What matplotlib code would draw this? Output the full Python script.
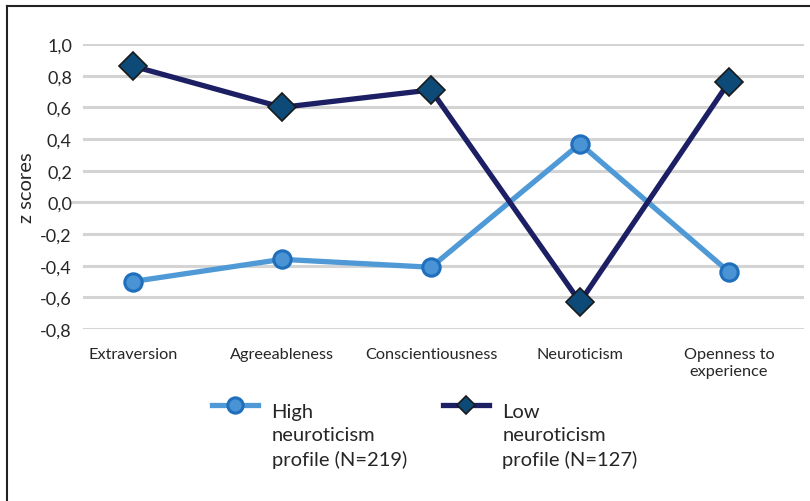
import matplotlib
matplotlib.use("Agg")
import matplotlib.pyplot as plt
from matplotlib.lines import Line2D
from matplotlib.legend_handler import HandlerLine2D
import numpy as np

categories = ["Extraversion", "Agreeableness", "Conscientiousness", "Neuroticism", "Openness to\nexperience"]
high_values = [-0.50, -0.36, -0.41, 0.37, -0.44]
low_values = [0.86, 0.60, 0.71, -0.63, 0.76]
high_label = "High\nneuroticism\nprofile (N=219)"
low_label = "Low\nneuroticism\nprofile (N=127)"
yticks = [-0.8, -0.6, -0.4, -0.2, 0.0, 0.2, 0.4, 0.6, 0.8, 1.0]
ytick_labels = ["-0,8", "-0,6", "-0,4", "-0,2", "0,0", "0,2", "0,4", "0,6", "0,8", "1,0"]

plt.rcParams['font.family'] = ['Lato', 'DejaVu Sans']
TXT = "#262626"

W, H = 810, 502
fig = plt.figure(figsize=(W / 100, H / 100), dpi=100)
ax = fig.add_axes([58.5 / W, 1 - 330 / H, 745 / W, 285 / H])

x = np.arange(len(categories))
ax.set_xlim(-0.5, len(categories) - 0.5)
ax.set_ylim(-0.8, 1.0)

# gridlines
for v in yticks:
    start = 0.018 if v == 0 else 0.034
    ax.axhline(v, xmin=start, xmax=1.0, color="#d4d4d4", lw=2.2, zorder=0)

ax.plot(x, high_values, color="#4f9ad6", lw=3.8, marker="o", ms=12.5,
        mfc="#4a93d4", mec="#1f6fbd", mew=2.2, zorder=3, clip_on=False, label=high_label)
ax.plot(x, low_values, color="#1c1f63", lw=3.8, marker="D", ms=14,
        mfc="#0d4a78", mec="#1a1a1a", mew=1.2, zorder=4, clip_on=False, label=low_label)

for s in ax.spines.values():
    s.set_visible(False)

ax.set_xticks(x)
ax.set_xticklabels(categories, fontsize=11.7, color=TXT, linespacing=1.3)
ax.set_yticks(yticks)
ax.set_yticklabels(ytick_labels, fontsize=13, color=TXT)
ax.tick_params(axis="x", length=0, pad=13)
ax.tick_params(axis="y", length=0, pad=-9.7)
ax.set_ylabel("z scores", fontsize=14.5, color=TXT)
ax.yaxis.set_label_coords((35 - 58.5) / 745, 0.5)


class TopHandler(HandlerLine2D):
    def __init__(self, shift, **kw):
        super().__init__(**kw)
        self.shift = shift

    def create_artists(self, legend, orig_handle, xdescent, ydescent, width, height, fontsize, trans):
        arts = super().create_artists(legend, orig_handle, xdescent, ydescent, width, height, fontsize, trans)
        for a in arts:
            a.set_ydata(np.asarray(a.get_ydata()) + self.shift)
        return arts


h_high = Line2D([], [], color="#4f9ad6", lw=3.8, marker="o", ms=11,
                mfc="#4a93d4", mec="#1f6fbd", mew=2.2)
h_low = Line2D([], [], color="#1c1f63", lw=3.8, marker="D", ms=9,
               mfc="#0d4a78", mec="#1a1a1a", mew=1.2)
leg = fig.legend([h_high, h_low], [high_label, low_label], ncol=2,
                 loc="upper left", bbox_to_anchor=(194 / W, 1 - 386 / H),
                 frameon=False, fontsize=14.5, handlelength=2.3, handletextpad=0.65,
                 columnspacing=1.8,
                 handler_map={h_high: TopHandler(22.0, numpoints=1), h_low: TopHandler(22.0, numpoints=1)})
for t in leg.get_texts():
    t.set_linespacing(1.45)
    t.set_color(TXT)

# figure frame lines (left and top)
fig.add_artist(Line2D([7 / W, 7 / W], [0, 1 - 7 / H], color="#222222", lw=1.5))
fig.add_artist(Line2D([7 / W, 1], [1 - 7 / H, 1 - 7 / H], color="#222222", lw=1.5))

fig.savefig("out.png", dpi=100)
